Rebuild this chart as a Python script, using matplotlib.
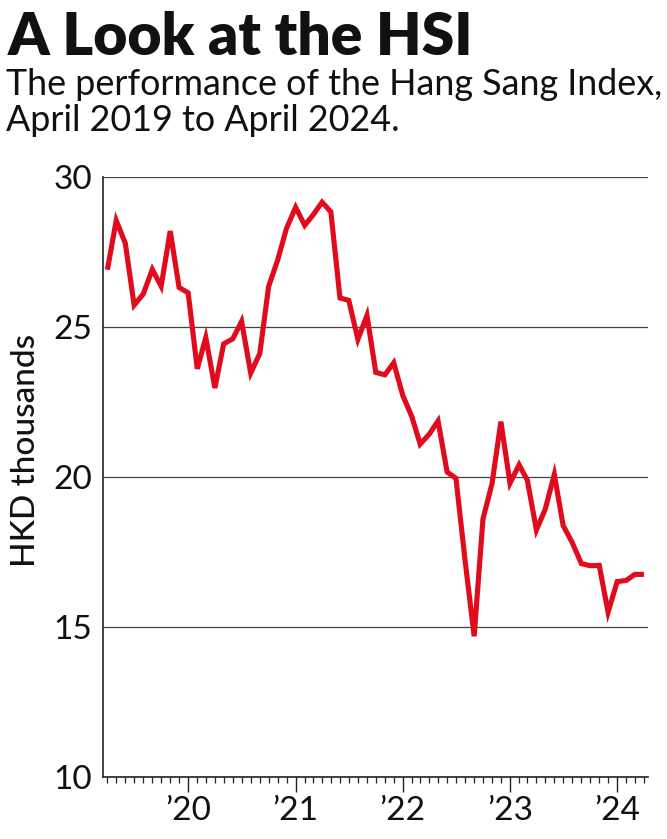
import matplotlib
matplotlib.use("Agg")
import matplotlib.pyplot as plt
import matplotlib.dates as mdates
import pandas as pd

# ---- data ----
start_month = "2019-04-01"
hsi_thousands = [26.90, 28.54, 27.78, 25.72, 26.09, 26.91, 26.35, 28.19, 26.31, 26.13,
                 23.60, 24.64, 22.96, 24.43, 24.60, 25.18, 23.46, 24.11, 26.34, 27.23,
                 28.28, 28.98, 28.38, 28.72, 29.15, 28.83, 25.96, 25.88, 24.58, 25.38,
                 23.48, 23.40, 23.80, 22.71, 22.00, 21.09, 21.42, 21.86, 20.16, 19.95,
                 17.22, 14.69, 18.60, 19.78, 21.84, 19.79, 20.40, 19.89, 18.23, 18.92,
                 20.08, 18.38, 17.81, 17.11, 17.04, 17.05, 15.49, 16.51, 16.55, 16.75, 16.75]
y_ticks = [10, 15, 20, 25, 30]
title_text = "A Look at the HSI"
subtitle_lines = ["The performance of the Hang Sang Index,", "April 2019 to April 2024."]
y_label = "HKD thousands"

dates = pd.date_range(start_month, periods=len(hsi_thousands), freq="MS")

W, H = 667, 839
fig = plt.figure(figsize=(W / 100, H / 100), dpi=100)
FONT = "Lato"

def fx(px):
    return px / W

def fy(py):
    return 1 - py / H

ax = fig.add_axes([fx(103), fy(777), fx(648) - fx(103), fy(176.7) - fy(777)])
ax.plot(dates, hsi_thousands, color="#E00B1C", lw=3.7, solid_joinstyle="miter",
        solid_capstyle="butt", zorder=3)

ax.set_ylim(10, 30)
ax.set_xlim(pd.Timestamp("2019-03-17"), pd.Timestamp("2024-04-15"))
ax.set_yticks(y_ticks)
ax.yaxis.grid(True, color="#444444", lw=0.9)
ax.set_axisbelow(True)

for s in ["top", "right"]:
    ax.spines[s].set_visible(False)
for s in ["left", "bottom"]:
    ax.spines[s].set_color("#222222")
    ax.spines[s].set_linewidth(1.2)

ax.xaxis.set_major_locator(mdates.YearLocator())
ax.xaxis.set_minor_locator(mdates.MonthLocator())
ax.xaxis.set_major_formatter(mdates.DateFormatter("\u2019%y"))
ax.tick_params(axis="x", which="major", length=10.5, width=1.0, color="#222222",
               pad=3, labelsize=24, labelcolor="#111111")
ax.tick_params(axis="x", which="minor", length=4.5, width=0.9, color="#222222")
ax.tick_params(axis="y", which="both", length=0, pad=8, labelsize=24, labelcolor="#111111")
for lab in ax.get_xticklabels() + ax.get_yticklabels():
    lab.set_fontfamily(FONT)

fig.text(fx(26), fy(450), y_label, rotation=90, ha="center", va="center",
         fontsize=24, family=FONT, weight="medium", color="#111111")

# title & subtitle, fitted to reference widths
t = fig.text(fx(8), fy(55), title_text, ha="left", va="baseline", fontsize=40,
             family=FONT, weight="heavy", color="#111111")
s1 = fig.text(fx(6), fy(95), subtitle_lines[0], ha="left", va="baseline", fontsize=22,
              family=FONT, color="#111111")
s2 = fig.text(fx(6), fy(131), subtitle_lines[1], ha="left", va="baseline", fontsize=22,
              family=FONT, color="#111111")
r = fig.canvas.get_renderer()
wt = t.get_window_extent(r).width
t.set_fontsize(40 * 465 / wt)
ws = s1.get_window_extent(r).width
s1.set_fontsize(22 * 655 / ws)
s2.set_fontsize(22 * 655 / ws)

fig.savefig("out.png", dpi=100)
